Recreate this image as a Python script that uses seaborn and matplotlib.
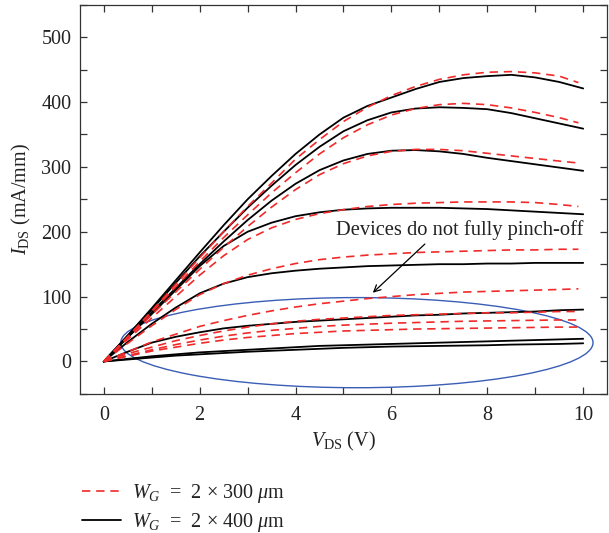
import numpy as np
import pandas as pd
import matplotlib
matplotlib.use("Agg")
import matplotlib.pyplot as plt
from matplotlib.patches import Ellipse
from matplotlib.lines import Line2D
from matplotlib.ticker import MultipleLocator
import seaborn as sns

# ---- data ----
V_black = [0, 0.5, 1, 1.5, 2, 2.5, 3, 3.5, 4, 4.5, 5, 5.5, 6, 6.5, 7, 7.5, 8, 8.5, 9, 9.5, 10]
V_red = [0, 0.5, 1, 1.5, 2, 2.5, 3, 3.5, 4, 4.5, 5, 5.5, 6, 6.5, 7, 7.5, 8, 8.5, 9, 9.5, 9.9]

B1 = [0, 40, 82, 125, 168, 210, 250, 286, 320, 350, 376, 394, 407, 420, 431, 437, 440, 442, 438, 431, 421]
B2 = [0, 40, 80, 121, 162, 200, 237, 271, 303, 331, 355, 372, 384, 390, 392, 391, 389, 383, 375, 367, 359]
B3 = [0, 38, 76, 113, 150, 185, 218, 248, 274, 295, 310, 320, 325, 326, 324, 320, 314, 309, 304, 299, 294]
B4 = [0, 37, 73, 110, 147, 178, 200, 214, 224, 230, 234, 236, 237, 237, 237, 236, 235, 233, 231, 229, 227]
B5 = [0, 30, 58, 83, 105, 120, 130, 136, 140, 143, 145, 147, 148, 149, 150, 150, 151, 151, 152, 152, 152]
B6 = [0, 15, 29, 38, 45, 51, 55, 58, 61, 63, 65, 67, 69, 71, 72, 74, 75, 76, 77, 79, 80]
B7 = [0, 4, 8, 11, 14, 16, 18, 20, 22, 24, 25, 26, 27, 28, 29, 30, 31, 32, 33, 34, 35]
B8 = [0, 3, 6, 9, 11, 13, 15, 16.5, 18, 19.5, 21, 22, 23, 23.5, 24, 24.5, 25, 26, 26.5, 27, 28]

R1 = [0, 38, 78, 119, 160, 200, 239, 275, 312, 342, 370, 392, 410, 424, 435, 442, 446, 447, 445, 440, 430]
R2 = [0, 38, 76, 115, 154, 191, 226, 260, 291, 320, 345, 365, 380, 390, 396, 398, 396, 391, 384, 376, 368]
R3 = [0, 36, 72, 107, 142, 176, 208, 238, 265, 288, 305, 317, 324, 327, 327, 325, 321, 317, 313, 309, 306]
R4 = [0, 34, 67, 100, 133, 163, 188, 206, 219, 228, 234, 239, 242, 244, 245, 246, 246, 246, 245, 242, 239]
R5 = [0, 28, 55, 80, 103, 120, 133, 143, 151, 157, 161, 164, 166, 168, 169, 170, 171, 172, 172, 173, 173]
R6 = [0, 15, 30, 42, 54, 63, 71, 78, 84, 89, 93, 97, 100, 103, 105, 107, 108, 109, 110, 111, 112]
R7 = [0, 12, 22, 32, 40, 47, 53, 58, 62, 65, 67, 69, 71, 72, 73, 74, 75, 75, 76, 77, 77]
R8 = [0, 9, 18, 26, 33, 39, 44, 48, 51, 54, 56, 57.5, 59, 60, 61, 62, 62.5, 63, 63.5, 64, 64]
R9 = [0, 8, 16, 22, 28, 33, 37, 40, 43, 45, 47, 48, 49, 50, 50.5, 51, 51.5, 52, 52.5, 53, 53]

black_curves = [B1, B2, B3, B4, B5, B6, B7, B8]
red_curves = [R1, R2, R3, R4, R5, R6, R7, R8, R9]

legend_labels = [r"$W_G$  =  2 × 300 $\mu$m", r"$W_G$  =  2 × 400 $\mu$m"]
annotation_text = "Devices do not fully pinch-off"

# ---- style ----
sns.set_theme(style="ticks")
plt.rcParams["font.family"] = ["Liberation Serif", "DejaVu Serif"]
plt.rcParams["mathtext.fontset"] = "custom"
plt.rcParams["mathtext.rm"] = "Liberation Serif"
plt.rcParams["mathtext.it"] = "Liberation Serif:italic"
plt.rcParams["mathtext.bf"] = "Liberation Serif:bold"

rows = []
for i, c in enumerate(black_curves):
    for v, y in zip(V_black, c):
        rows.append(dict(V=v, I=y, curve=f"b{i}", kind="black"))
for i, c in enumerate(red_curves):
    for v, y in zip(V_red, c):
        rows.append(dict(V=v, I=y, curve=f"r{i}", kind="red"))
df = pd.DataFrame(rows)

fig = plt.figure(figsize=(6.09, 5.33), dpi=100)
ax = fig.add_axes([0.131, 0.261, 0.866, 0.730])

red_col = "#f02a2a"
for name, g in df[df.kind == "black"].groupby("curve"):
    sns.lineplot(data=g, x="V", y="I", ax=ax, color="black", lw=1.3,
                 estimator=None, sort=False, legend=False)
for name, g in df[df.kind == "red"].groupby("curve"):
    sns.lineplot(data=g, x="V", y="I", ax=ax, color=red_col, lw=1.2,
                 estimator=None, sort=False, legend=False, dashes=False,
                 linestyle=(0, (5, 3.5)))

ell = Ellipse((5.28, 29), 9.85, 139, fill=False, edgecolor="#3a5db5", lw=1.0)
ax.add_patch(ell)

ax.text(10.0, 203, annotation_text, ha="right", va="center", fontsize=14.8, color="#222222")
ax.annotate("", xy=(5.57, 103), xytext=(6.74, 184),
            arrowprops=dict(arrowstyle="->", color="black", lw=0.9, mutation_scale=12))

ax.set_xlim(-0.5, 10.5)
ax.set_ylim(-50, 550)
ax.xaxis.set_major_locator(MultipleLocator(2))
ax.xaxis.set_minor_locator(MultipleLocator(1))
ax.yaxis.set_major_locator(MultipleLocator(100))
ax.yaxis.set_minor_locator(MultipleLocator(50))
ax.tick_params(which="both", direction="in", top=True, right=True, colors="#333333",
               labelcolor="#222222", labelsize=14.5, width=0.9, length=5)
ax.tick_params(axis="x", which="both", pad=9)
ax.tick_params(axis="y", which="both", pad=6)
for s in ax.spines.values():
    s.set_color("#333333")
    s.set_linewidth(0.9)

ax.set_xlabel(r"$V_{\mathrm{DS}}$ (V)", fontsize=14.5, color="#222222", labelpad=3)
ax.set_ylabel(r"$I_{\mathrm{DS}}$ (mA/mm)", fontsize=14.5, color="#222222", labelpad=6)

handles = [Line2D([], [], color=red_col, lw=1.2, linestyle=(0, (5, 3.5))),
           Line2D([], [], color="black", lw=1.3)]
fig.legend(handles, legend_labels, loc="upper left", bbox_to_anchor=(0.112, 0.122),
           frameon=False, fontsize=14.5, handlelength=1.9, handletextpad=0.55,
           labelspacing=0.3, labelcolor="#222222", borderpad=0.2)

fig.savefig("out.png", dpi=100)
